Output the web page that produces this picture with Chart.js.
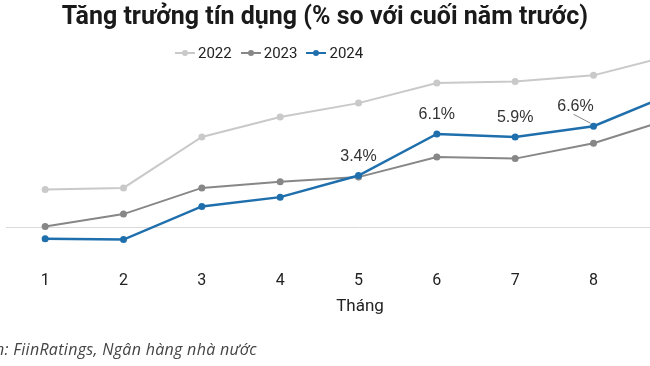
<!DOCTYPE html>
<html>
<head>
<meta charset="utf-8">
<script src="https://cdn.jsdelivr.net/npm/chart.js@4.4.1/dist/chart.umd.min.js"></script>
<style>
  html, body { margin: 0; padding: 0; background: #fff; }
  #wrap { position: relative; width: 650px; height: 366px; overflow: hidden; }
  #chart { position: absolute; left: 0; top: 0; }
  #title { position: absolute; left: 0; width: 650px; top: 1px; text-align: center;
    font: 700 25px Roboto, sans-serif; color: #1a1a1a; }
  #legend { position: absolute; top: 44px; left: 175px; display: flex; align-items: center;
    font: 15px Roboto, sans-serif; color: #222; }
  .item { display: flex; align-items: center; margin-right: 9px; }
  .mark { position: relative; width: 20px; height: 2px; margin-right: 3px; }
  .mark i { position: absolute; left: 7px; top: -2px; width: 6px; height: 6px; border-radius: 50%; }
  #xtitle { position: absolute; left: 300px; width: 120px; top: 295px; line-height: 20px;
    text-align: center; font: 17px Roboto, sans-serif; color: #222; }
  #source { position: absolute; top: 338px; left: -44px; white-space: nowrap; letter-spacing: 0.3px;
    font: italic 16px "Open Sans", sans-serif; color: #444; }
</style>
</head>
<body>
<div id="wrap">
  <canvas id="chart" width="730" height="366"></canvas>
  <div id="title">Tăng trưởng tín dụng (% so với cuối năm trước)</div>
  <div id="legend"></div>
  <div id="xtitle">Tháng</div>
  <div id="source">Nguồn: FiinRatings, Ngân hàng nhà nước</div>
</div>
<script>
const months = ['1', '2', '3', '4', '5', '6', '7', '8', '9'];
const years = ['2022', '2023', '2024'];
const growth2022 = [2.5, 2.6, 5.9, 7.2, 8.1, 9.4, 9.5, 9.9, 11.2];
const growth2023 = [0.1, 0.9, 2.6, 3.0, 3.3, 4.6, 4.5, 5.5, 7.1];
const growth2024 = [-0.7, -0.75, 1.4, 2.0, 3.4, 6.1, 5.9, 6.6, 8.7];
const labeledMonths = ['5', '6', '7', '8'];
const colors = ['#c9c9c9', '#878787', '#1f6fad'];

const series = [growth2022, growth2023, growth2024];

// legend in html
const legend = document.getElementById('legend');
years.forEach((y, i) => {
  const el = document.createElement('div');
  el.className = 'item';
  el.innerHTML = '<span class="mark" style="background:' + colors[i] + '"><i style="background:' + colors[i] + '"></i></span>' + y;
  legend.appendChild(el);
});

const pointLabels = {
  id: 'pointLabels',
  afterDatasetsDraw(chart) {
    const ctx = chart.ctx;
    const idx = chart.data.datasets.findIndex(d => d.label === '2024');
    const meta = chart.getDatasetMeta(idx);
    ctx.save();
    ctx.font = '16px "Liberation Sans", Arial, sans-serif';
    ctx.fillStyle = '#333';
    ctx.textAlign = 'center';
    ctx.textBaseline = 'middle';
    months.forEach((m, i) => {
      if (!labeledMonths.includes(m)) return;
      const p = meta.data[i];
      const txt = growth2024[i].toFixed(1) + '%';
      if (m === '8') {
        ctx.strokeStyle = '#888';
        ctx.lineWidth = 1;
        ctx.beginPath();
        ctx.moveTo(p.x - 20, p.y - 12);
        ctx.lineTo(p.x - 3, p.y - 3);
        ctx.stroke();
        ctx.fillText(txt, p.x - 18, p.y - 20);
      } else {
        ctx.fillText(txt, p.x, p.y - 19);
      }
    });
    ctx.restore();
  }
};

new Chart(document.getElementById('chart'), {
  type: 'line',
  data: {
    labels: months,
    datasets: years.map((y, i) => ({
      label: y,
      data: series[i],
      borderColor: colors[i],
      backgroundColor: colors[i],
      borderWidth: i === 2 ? 2.5 : 2,
      pointRadius: 3.5,
      pointBorderWidth: 0,
      tension: 0
    })).reverse()
  },
  options: {
    responsive: false,
    animation: false,
    layout: { padding: { left: 6, right: 19, top: 43, bottom: 70 } },
    plugins: { legend: { display: false }, tooltip: { enabled: false } },
    scales: {
      x: {
        offset: true,
        grid: { display: false },
        border: { display: false },
        ticks: { padding: 5, color: '#222', font: { family: 'Roboto', size: 16 } }
      },
      y: {
        min: -2,
        max: 12,
        ticks: { display: false, stepSize: 1 },
        border: { display: false },
        grid: { drawTicks: false, color: c => c.tick.value === 0 ? '#d9d9d9' : 'transparent' }
      }
    }
  },
  plugins: [pointLabels]
});
</script>
</body>
</html>
